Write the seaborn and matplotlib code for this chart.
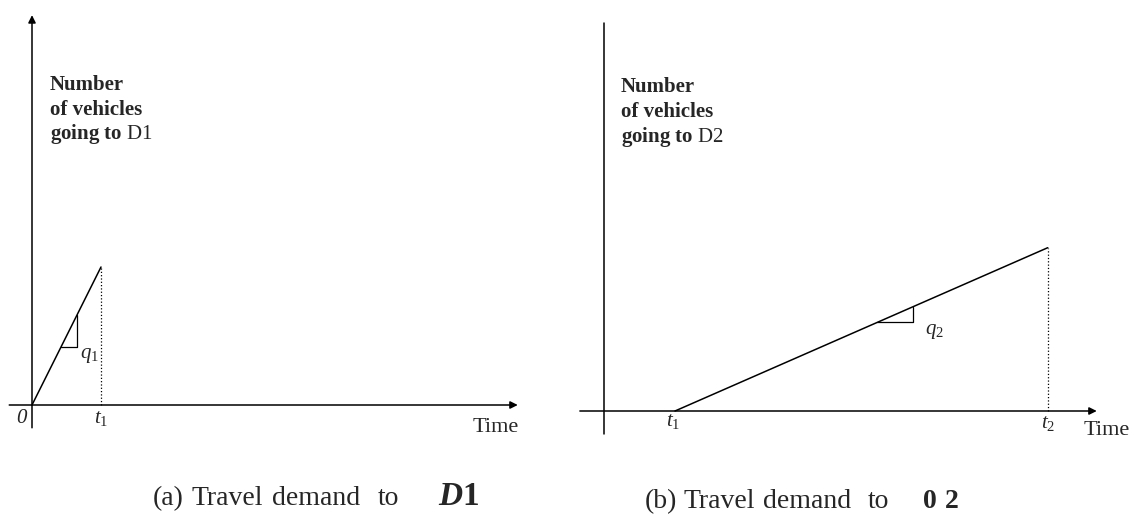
import matplotlib.pyplot as plt
import seaborn as sns

# demand curves (cumulative vehicles vs time)
time_a = [0.0, 1.0]
count_a = [0.0, 2.0]
time_b = [1.0, 6.25]
count_b = [0.0, 2.3]

ticks_a = [0.0, 1.0]
tick_labels_a = ["0", r"$t_1$"]
ticks_b = [1.0, 6.25]
tick_labels_b = [r"$t_1$", r"$t_2$"]

slope_labels = [r"$q_1$", r"$q_2$"]
ylabel_a = ["Number", "of vehicles", r"$\mathbf{going\ to}$ D1"]
ylabel_b = ["Number", "of vehicles", r"$\mathbf{going\ to}$ D2"]
caption_a = ["(a)", "Travel", "demand", "to", r"$\mathbfit{D}\mathbf{1}$"]
caption_b = ["(b)", "Travel", "demand", "to", r"$\mathbf{0}$", r"$\mathbf{2}$"]

sns.set_style("white")
plt.rcParams['font.family'] = ['Liberation Serif', 'DejaVu Serif']
plt.rcParams['mathtext.fontset'] = 'custom'
plt.rcParams['mathtext.rm'] = 'Liberation Serif'
plt.rcParams['mathtext.it'] = 'Liberation Serif:italic'
plt.rcParams['mathtext.bf'] = 'Liberation Serif:bold'
plt.rcParams['mathtext.bfit'] = 'Liberation Serif:bold:italic'

W, H = 1134, 515
fig = plt.figure(figsize=(W / 100, H / 100), dpi=100)

# axes placed so that data coords line up with the reference
axa = fig.add_axes([0, 0, 560 / W, 1])
axb = fig.add_axes([567 / W, 0, (W - 567) / W, 1])
axa.set_xlim(-32 / 69, (560 - 32) / 69)
axa.set_ylim((405 - 515) / 69, 405 / 69)
axb.set_xlim(-37 / 71, (W - 567 - 37) / 71)
axb.set_ylim((411 - 515) / 71, 411 / 71)

arrow = dict(arrowstyle='-|>', lw=1.1, color='black', mutation_scale=11, shrinkA=0, shrinkB=0)

for ax in (axa, axb):
    ax.axis('off')

# ---- panel a ----
axa.annotate('', xy=(0, 5.65), xytext=(0, -0.33), arrowprops=arrow)
axa.annotate('', xy=(7.04, 0), xytext=(-0.33, 0), arrowprops=arrow)
sns.lineplot(x=time_a, y=count_a, ax=axa, color='black', lw=1.1)
axa.plot([time_a[1], time_a[1]], [0, count_a[1]], ls=':', color='black', lw=0.9)
s_a = count_a[1] / (time_a[1] - time_a[0])
x0, x1 = 0.42, 0.65
axa.plot([x0, x1, x1], [s_a * x0, s_a * x0, s_a * x1], color='black', lw=0.9)
axa.text(0.83, 0.72, slope_labels[0], fontsize=15, ha='center', va='center')
axa.text(-0.16, -0.20, tick_labels_a[0], fontsize=15, fontstyle='italic', ha='center', va='center')
axa.text(ticks_a[1], -0.19, tick_labels_a[1], fontsize=15, ha='center', va='center')
axa.text(6.72, -0.32, "Time", fontsize=16, ha='center', va='center')
for txt, yb in zip(ylabel_a, [4.565, 4.203, 3.855]):
    w = 'bold' if txt.startswith(('N', 'o')) else 'normal'
    axa.text(0.26, yb, txt, fontsize=15, fontweight=w, ha='left', va='baseline')

# ---- panel b ----
axb.plot([0, 0], [-0.32, 5.46], color='black', lw=1.1)
axb.annotate('', xy=(6.94, 0), xytext=(-0.34, 0), arrowprops=arrow)
sns.lineplot(x=time_b, y=count_b, ax=axb, color='black', lw=1.1)
axb.plot([time_b[1], time_b[1]], [0, count_b[1]], ls=':', color='black', lw=0.9)
s_b = count_b[1] / (time_b[1] - time_b[0])
x0, x1 = 3.85, 4.35
axb.plot([x0, x1, x1], [s_b * (x0 - 1), s_b * (x0 - 1), s_b * (x1 - 1)], color='black', lw=0.9)
axb.text(4.66, 1.12, slope_labels[1], fontsize=15, ha='center', va='center')
axb.text(ticks_b[0] - 0.03, -0.15, tick_labels_b[0], fontsize=15, ha='center', va='center')
axb.text(ticks_b[1], -0.17, tick_labels_b[1], fontsize=15, ha='center', va='center')
axb.text(7.08, -0.27, "Time", fontsize=16, ha='center', va='center')
for txt, yb in zip(ylabel_b, [4.493, 4.141, 3.789]):
    w = 'bold' if txt.startswith(('N', 'o')) else 'normal'
    axb.text(0.24, yb, txt, fontsize=15, fontweight=w, ha='left', va='baseline')

# ---- captions, word by word (wide spacing in the original) ----
for word, px, fs in zip(caption_a, [153, 192, 272, 378, 438], [20, 20, 20, 20, 24]):
    fig.text(px / W, 1 - 505 / H, word, fontsize=fs, ha='left', va='baseline')
for word, px in zip(caption_b, [645, 683, 763, 868, 922, 944]):
    fig.text(px / W, 1 - 508 / H, word, fontsize=20, ha='left', va='baseline')

fig.savefig('out.png', dpi=100, facecolor='white')
